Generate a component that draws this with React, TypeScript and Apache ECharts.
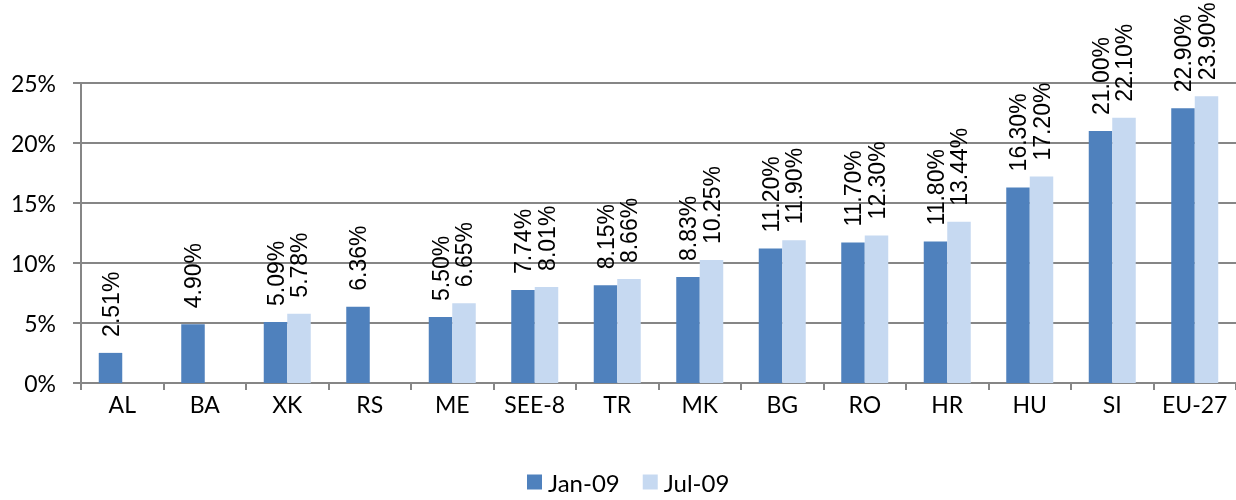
import React, { useEffect, useRef } from "react";
import * as echarts from "echarts";

const categories = ["AL", "BA", "XK", "RS", "ME", "SEE-8", "TR", "MK", "BG", "RO", "HR", "HU", "SI", "EU-27"];
const jan09 = [2.51, 4.9, 5.09, 6.36, 5.5, 7.74, 8.15, 8.83, 11.2, 11.7, 11.8, 16.3, 21.0, 22.9];
const jul09 = [null, null, 5.78, null, 6.65, 8.01, 8.66, 10.25, 11.9, 12.3, 13.44, 17.2, 22.1, 23.9];
const yTicks = { min: 0, max: 25, interval: 5 };

const axisFont = "Lato, 'Open Sans', sans-serif";
const labelFont = "'Liberation Sans', Arial, sans-serif";

export default function App() {
  const ref = useRef<HTMLDivElement>(null);
  useEffect(() => {
    if (!ref.current) return;
    const chart = echarts.init(ref.current, null, { renderer: "svg" });
    const barLabel = {
      show: true,
      position: "top",
      rotate: 90,
      align: "left",
      verticalAlign: "middle",
      distance: 16,
      color: "#000",
      fontFamily: labelFont,
      fontSize: 23,
      formatter: (p: any) => (p.value == null ? "" : Number(p.value).toFixed(2) + "%"),
    };
    chart.setOption({
      animation: false,
      grid: { left: 81, right: 0, top: 83, bottom: 117, containLabel: false },
      legend: {
        top: 470,
        left: 527,
        padding: 0,
        itemWidth: 15,
        itemHeight: 15,
        itemGap: 23,
        icon: "rect",
        textStyle: { fontFamily: axisFont, fontSize: 24, lineHeight: 22, color: "#000", padding: [0, 0, 0, 1] },
        data: ["Jan-09", "Jul-09"],
      },
      xAxis: {
        type: "category",
        data: categories,
        axisLine: { lineStyle: { color: "#868686", width: 2 } },
        axisTick: { show: true, length: 7, lineStyle: { color: "#868686", width: 2 } },
        axisLabel: { interval: 0, margin: 9, color: "#000", fontFamily: axisFont, fontSize: 23 },
      },
      yAxis: {
        type: "value",
        min: yTicks.min,
        max: yTicks.max,
        interval: yTicks.interval,
        axisLine: { show: true, lineStyle: { color: "#868686", width: 2 } },
        axisTick: { show: true, length: 8, lineStyle: { color: "#868686", width: 2 } },
        splitLine: { lineStyle: { color: "#868686", width: 2 } },
        axisLabel: {
          formatter: "{value}%",
          margin: 25,
          color: "#000",
          fontFamily: axisFont,
          fontSize: 23,
        },
      },
      series: [
        {
          name: "Jan-09",
          type: "bar",
          data: jan09,
          barWidth: 23.5,
          barGap: "0%",
          itemStyle: { color: "#4F81BD" },
          label: barLabel,
        },
        {
          name: "Jul-09",
          type: "bar",
          data: jul09,
          barWidth: 23.5,
          barGap: "0%",
          itemStyle: { color: "#C6D9F1" },
          label: barLabel,
        },
      ],
    });
    return () => chart.dispose();
  }, []);
  return (
    <div
      ref={ref}
      style={{ position: "fixed", left: 0, top: 0, width: 1236, height: 500 }}
    />
  );
}
